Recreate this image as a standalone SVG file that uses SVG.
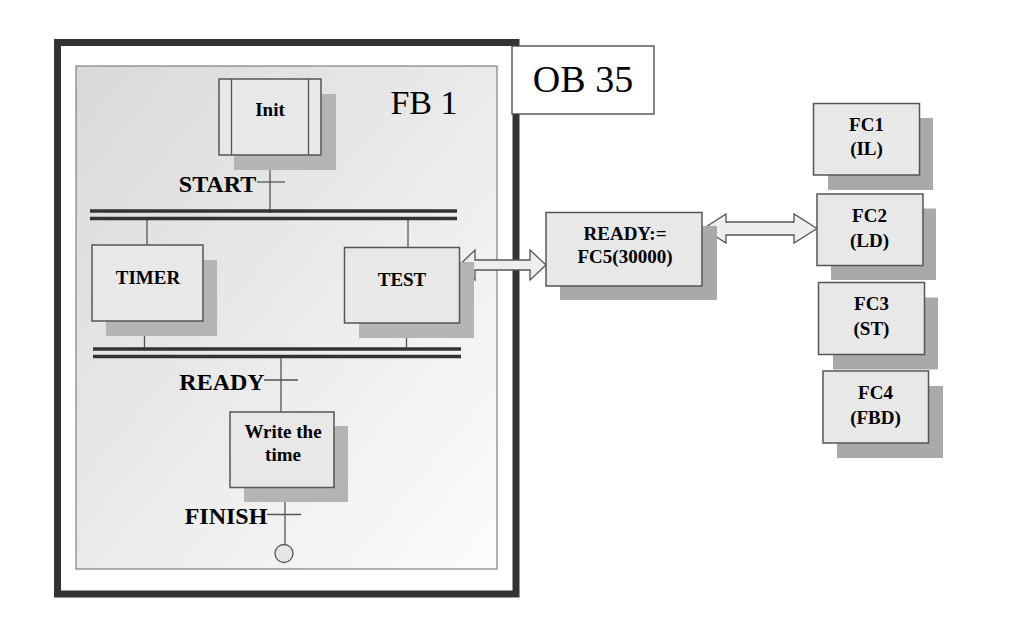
<svg xmlns="http://www.w3.org/2000/svg" width="1010" height="639" viewBox="0 0 1010 639">
<style>
.box{fill:#e8e8e8;stroke:#555;stroke-width:1.5}
.sh{fill:#b4b4b4}
.sh2{fill:#a9a9a9}
.t{font-family:"Liberation Serif",serif;font-weight:bold;fill:#000;text-anchor:middle}
.ln{stroke:#555;stroke-width:1.3;fill:none}
.bar{stroke:#333;stroke-width:3.5}
.arr{fill:#eeeeee;stroke:#555;stroke-width:1.3}
</style>
<defs>
<linearGradient id="pg" x1="0" y1="0" x2="1" y2="1">
<stop offset="0" stop-color="#d9d9d9"/>
<stop offset="1" stop-color="#fcfcfc"/>
</linearGradient>
</defs>
<rect width="1010" height="639" fill="#fff"/>
<g id="ob35">
<rect x="57.5" y="42.5" width="458.5" height="551.5" fill="#fff" stroke="#333" stroke-width="7"/>
<rect x="512" y="46" width="142" height="68" fill="#fff" stroke="#444" stroke-width="1.3"/>
<text x="583" y="92" font-family="Liberation Serif, serif" font-size="38" text-anchor="middle">OB 35</text>
</g>
<g id="fb1">
<rect x="76" y="66" width="421" height="503" fill="url(#pg)" stroke="#888" stroke-width="1.3"/>
<text x="424" y="114" font-family="Liberation Serif, serif" font-size="34" text-anchor="middle">FB 1</text>
</g>
<g id="connectors">
<line class="ln" x1="270" y1="155" x2="270" y2="213"/>
<line class="ln" x1="257" y1="182" x2="285" y2="182"/>
<line class="bar" x1="90" y1="211" x2="457" y2="211"/>
<line class="bar" x1="90" y1="218.5" x2="457" y2="218.5"/>
<line class="ln" x1="147" y1="220" x2="147" y2="245"/>
<line class="ln" x1="408" y1="220" x2="408" y2="247"/>
<line class="ln" x1="144.5" y1="321" x2="144.5" y2="348"/>
<line class="ln" x1="406.5" y1="323" x2="406.5" y2="348"/>
<line class="bar" x1="93" y1="349" x2="461" y2="349"/>
<line class="bar" x1="93" y1="356.5" x2="461" y2="356.5"/>
<line class="ln" x1="281" y1="358" x2="281" y2="412"/>
<line class="ln" x1="264" y1="380" x2="298" y2="380"/>
<line class="ln" x1="285" y1="487" x2="285" y2="544.5"/>
<line class="ln" x1="267" y1="514.5" x2="301" y2="514.5"/>
<polygon class="arr" points="459.5,265 475,250 475,260 530,260 530,250 546,265 530,280 530,270 475,270 475,280"/>
<polygon class="arr" points="703.5,228.5 726,214 726,222 794,222 794,214 817,228.5 794,243 794,235 726,235 726,243"/>
</g>
<g id="init">
<rect class="sh" x="234" y="94" width="102" height="76"/>
<rect class="box" x="219" y="79" width="102" height="76"/>
<line class="ln" x1="231.5" y1="79" x2="231.5" y2="155"/>
<line class="ln" x1="308.5" y1="79" x2="308.5" y2="155"/>
<text class="t" x="270" y="116" font-size="19">Init</text>
</g>
<text class="t" x="217.5" y="192" font-size="24">START</text>
<g id="timer">
<rect class="sh" x="106" y="260" width="111" height="76"/>
<rect class="box" x="92" y="245" width="111" height="76"/>
<text class="t" x="148" y="284" font-size="19">TIMER</text>
</g>
<g id="test">
<rect class="sh" x="359" y="262" width="115" height="76"/>
<rect class="box" x="344.5" y="247.5" width="115" height="75.5"/>
<text class="t" x="402" y="286" font-size="19">TEST</text>
</g>
<text class="t" x="222" y="389.5" font-size="24">READY</text>
<g id="write">
<rect class="sh" x="244" y="426" width="104" height="76"/>
<rect class="box" x="230" y="412" width="104" height="75.5"/>
<text class="t" x="283" y="438" font-size="19">Write the</text>
<text class="t" x="283" y="461" font-size="19">time</text>
</g>
<text class="t" x="226" y="524" font-size="24">FINISH</text>
<g id="end">
<circle cx="284" cy="553.5" r="9" fill="#e6e6e6" stroke="#555" stroke-width="1.3"/>
</g>
<g id="fc5">
<rect class="sh2" x="560" y="226" width="157" height="74"/>
<rect class="box" x="546" y="212.5" width="156" height="73.5"/>
<text class="t" x="625" y="239.5" font-size="19">READY:=</text>
<text class="t" x="625" y="263" font-size="19">FC5(30000)</text>
</g>
<g id="fc1">
<rect class="sh2" x="828" y="118" width="105" height="72"/>
<rect class="box" x="813.5" y="103.5" width="106" height="71.5"/>
<text class="t" x="866.5" y="131" font-size="19">FC1</text>
<text class="t" x="866.5" y="155" font-size="19">(IL)</text>
</g>
<g id="fc2">
<rect class="sh2" x="831" y="208.5" width="105" height="71.5"/>
<rect class="box" x="817" y="194" width="106" height="71.5"/>
<text class="t" x="869.5" y="221.5" font-size="19">FC2</text>
<text class="t" x="869.5" y="246.5" font-size="19">(LD)</text>
</g>
<g id="fc3">
<rect class="sh2" x="833" y="297.5" width="105" height="72"/>
<rect class="box" x="818.5" y="282.5" width="106" height="72"/>
<text class="t" x="871.5" y="310" font-size="19">FC3</text>
<text class="t" x="871.5" y="334.5" font-size="19">(ST)</text>
</g>
<g id="fc4">
<rect class="sh2" x="837" y="386" width="106" height="72"/>
<rect class="box" x="823" y="371" width="105.5" height="72"/>
<text class="t" x="875.5" y="398.5" font-size="19">FC4</text>
<text class="t" x="875.5" y="423.5" font-size="19">(FBD)</text>
</g>
</svg>
